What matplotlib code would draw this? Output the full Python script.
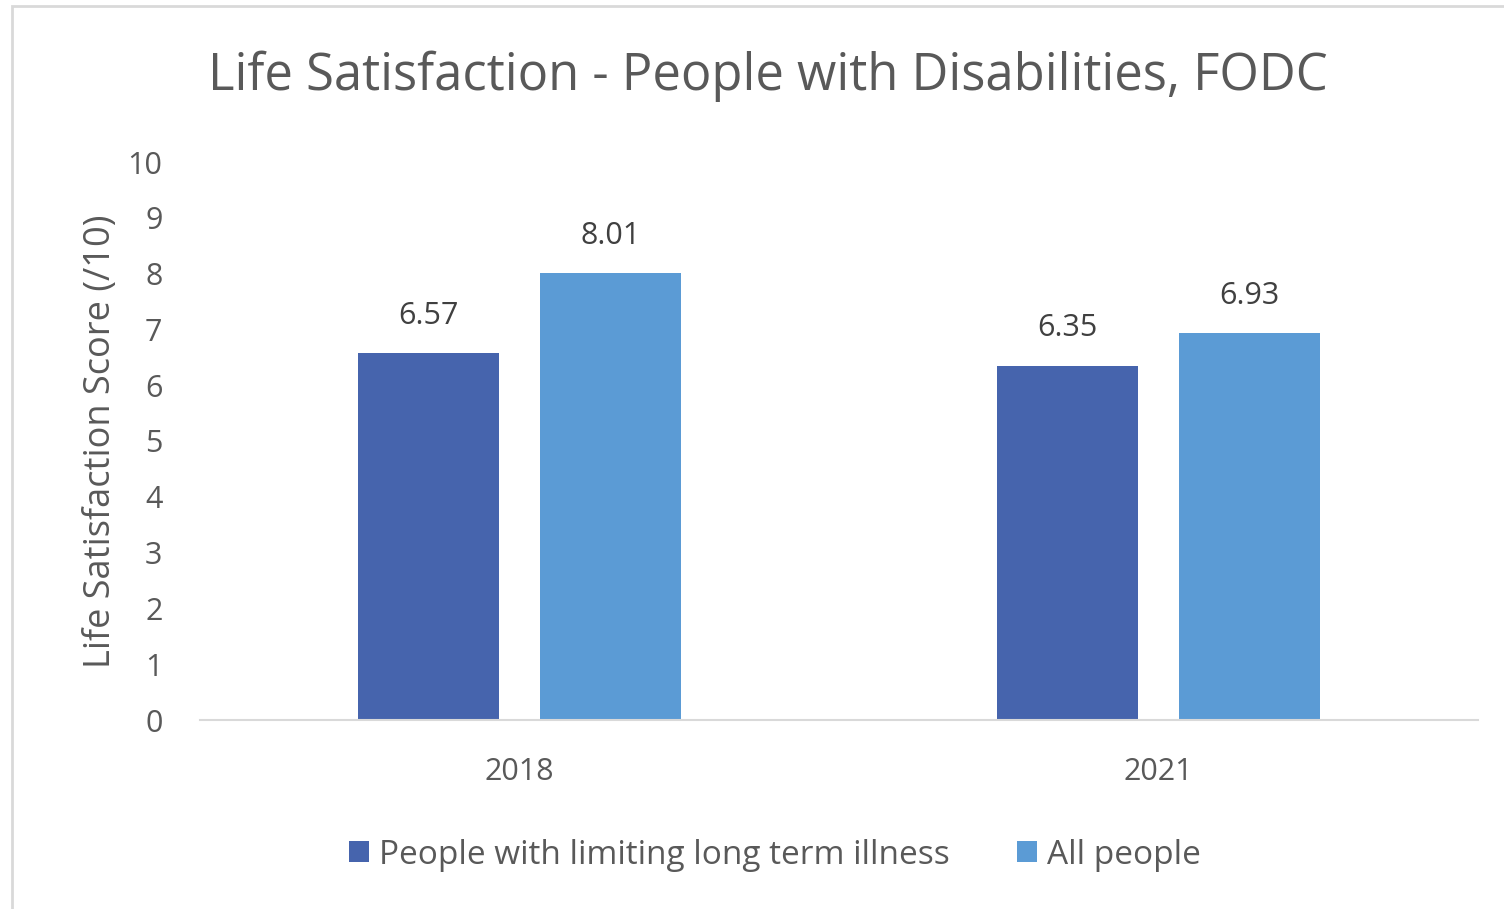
"""
Life satisfaction bar chart
"""
import matplotlib
matplotlib.use("Agg")
import matplotlib.pyplot as plt
import numpy as np
from matplotlib.patches import Rectangle

plt.rcParams['font.family'] = ['Open Sans', 'DejaVu Sans']

# 데이터
years = ["2018", "2021"]
series_names = ["People with limiting long term illness", "All people"]
illness_scores = [6.57, 6.35]
all_scores = [8.01, 6.93]
colors = ["#4664AD", "#5B9BD5"]
text_color = "#595959"

fig = plt.figure(figsize=(15.04, 9.09), dpi=100)
fig.patch.set_facecolor("white")

# 외곽 테두리 (왼쪽/위)
fig.add_artist(Rectangle((12 / 1504, -0.01), 1.2, 1 - 6 / 909 + 0.01,
                         transform=fig.transFigure, fill=False,
                         edgecolor="#D9D9D9", linewidth=2))

ax = fig.add_axes([200 / 1504, 1 - 720 / 909, 1278 / 1504, (720 - 162) / 909])

x = np.arange(len(years))
width = 0.22
offset = 0.142
for vals, name, color, sign in [(illness_scores, series_names[0], colors[0], -1),
                                (all_scores, series_names[1], colors[1], 1)]:
    bars = ax.bar(x + sign * offset, vals, width, color=color, label=name)
    for b, v in zip(bars, vals):
        ax.text(b.get_x() + b.get_width() / 2, v + 0.4, f"{v:.2f}",
                ha="center", va="bottom", fontsize=22, color="#404040")

ax.set_xlim(-0.5, 1.5)
ax.set_ylim(0, 10)
ax.set_yticks(range(0, 11))
ax.set_xticks(x)
ax.set_xticklabels(years)
ax.tick_params(axis="both", length=0, labelsize=22, colors=text_color)
ax.tick_params(axis="x", pad=27)
ax.tick_params(axis="y", pad=27)

for s in ["top", "right", "left"]:
    ax.spines[s].set_visible(False)
ax.spines["bottom"].set_color("#D9D9D9")
ax.spines["bottom"].set_linewidth(1.5)

ax.set_ylabel("Life Satisfaction Score (/10)", fontsize=26, color=text_color,
              labelpad=6)

fig.text(768 / 1504, 1 - 76 / 909, "Life Satisfaction - People with Disabilities, FODC",
         ha="center", va="center", fontsize=36.5, color=text_color)

ax.legend(loc="center", bbox_to_anchor=(775 / 1504, 1 - 855 / 909),
          bbox_transform=fig.transFigure, ncol=2, frameon=False,
          fontsize=24, labelcolor=text_color, handlelength=0.6,
          handleheight=0.6, handletextpad=0.3, columnspacing=2.0)

fig.savefig("out.png", dpi=100, facecolor="white")
